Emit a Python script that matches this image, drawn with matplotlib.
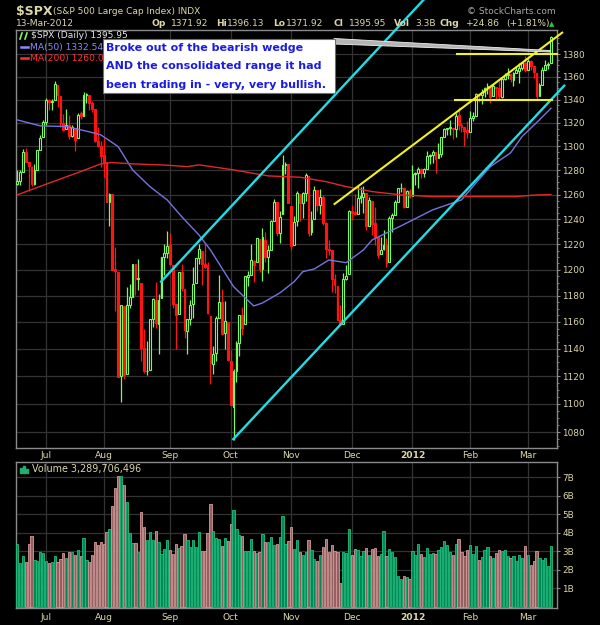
import matplotlib
matplotlib.use('Agg')
import matplotlib.pyplot as plt
import pandas as pd
from matplotlib.patches import Rectangle, Polygon
from matplotlib.lines import Line2D
from matplotlib.ticker import FixedLocator, NullFormatter

# trading days shown, Jun 17 2011 - Mar 13 2012
holidays = ['2011-07-04', '2011-09-05', '2011-11-24', '2011-12-26',
            '2012-01-02', '2012-01-16', '2012-02-20']
dates = pd.bdate_range('2011-06-17', '2012-03-13')
dates = dates[~dates.isin(pd.to_datetime(holidays))]

# daily OHLC, one row per month
opens = [
    1268.58, 1271.50, 1278.40, 1295.48, 1286.60, 1283.04, 1268.44, 1280.21, 1296.85, 1307.64,
    1320.64, 1339.59, 1337.56, 1339.62, 1352.39, 1343.31, 1319.61, 1314.45, 1317.74, 1308.87, 1315.94, 1307.07, 1328.66, 1325.65, 1343.80, 1344.32, 1337.39, 1331.91, 1304.84, 1300.12,
    1292.59, 1286.56, 1254.25, 1260.23, 1200.28, 1198.48, 1120.23, 1171.77, 1121.30, 1172.87, 1178.86, 1204.22, 1192.89, 1189.62, 1140.47, 1123.55, 1124.36, 1162.16, 1176.69, 1158.85, 1177.91, 1209.76, 1213.00,
    1219.12, 1203.90, 1173.97, 1165.85, 1197.98, 1185.37, 1153.50, 1162.59, 1173.32, 1189.44, 1209.21, 1214.99, 1204.50, 1203.63, 1164.55, 1128.82, 1136.91, 1163.32, 1175.39, 1151.74, 1159.93,
    1131.21, 1097.42, 1124.03, 1144.11, 1165.03, 1158.15, 1194.60, 1196.19, 1206.96, 1205.65, 1224.47, 1200.75, 1223.46, 1209.92, 1215.39, 1238.72, 1254.19, 1229.17, 1243.97, 1284.39, 1284.96,
    1251.00, 1219.62, 1238.25, 1260.82, 1253.21, 1261.12, 1275.18, 1229.59, 1240.12, 1263.85, 1251.70, 1257.81, 1236.56, 1216.19, 1215.62, 1192.98, 1187.48, 1161.41, 1158.67, 1192.56, 1196.72,
    1246.91, 1246.03, 1244.33, 1257.19, 1258.14, 1260.87, 1234.48, 1255.05, 1236.83, 1225.73, 1212.12, 1216.09, 1219.74, 1205.72, 1241.25, 1243.72, 1254.00, 1265.02, 1265.38, 1249.75, 1262.82,
    1258.86, 1277.03, 1277.30, 1280.93, 1277.83, 1280.77, 1292.02, 1292.48, 1294.82, 1290.22, 1293.65, 1308.07, 1314.49, 1315.29, 1315.96, 1314.40, 1326.28, 1318.25, 1316.16, 1313.53,
    1312.45, 1324.24, 1326.21, 1344.32, 1344.33, 1347.04, 1349.97, 1351.21, 1343.06, 1351.30, 1350.52, 1342.61, 1358.06, 1361.22, 1362.11, 1357.53, 1363.46, 1365.20, 1367.56, 1372.20,
    1365.90, 1374.09, 1369.59, 1363.63, 1343.39, 1352.65, 1365.97, 1370.78, 1371.92,
]
highs = [
    1279.82, 1280.42, 1297.62, 1298.61, 1286.79, 1283.93, 1284.91, 1296.80, 1309.21, 1321.97,
    1341.01, 1340.89, 1340.94, 1356.48, 1352.39, 1343.31, 1327.17, 1331.48, 1326.88, 1317.70, 1315.94, 1328.14, 1330.43, 1347.00, 1346.10, 1344.32, 1338.51, 1331.91, 1316.32, 1304.16,
    1307.38, 1286.56, 1261.20, 1260.23, 1218.11, 1198.48, 1172.88, 1171.77, 1186.29, 1189.04, 1204.49, 1204.22, 1208.47, 1189.62, 1154.54, 1145.49, 1162.35, 1178.56, 1190.68, 1181.23, 1210.28, 1220.10, 1230.71,
    1229.29, 1203.90, 1173.97, 1198.62, 1204.40, 1185.37, 1162.52, 1176.41, 1202.38, 1209.11, 1220.06, 1214.99, 1220.39, 1206.30, 1164.55, 1141.72, 1164.19, 1195.86, 1184.71, 1175.87, 1159.93,
    1138.99, 1125.12, 1146.07, 1165.55, 1171.40, 1194.91, 1199.24, 1220.25, 1207.46, 1224.61, 1224.47, 1233.10, 1229.64, 1219.36, 1239.03, 1256.55, 1254.19, 1246.28, 1292.66, 1287.08, 1284.96,
    1251.00, 1242.48, 1263.21, 1260.82, 1261.70, 1277.55, 1275.18, 1246.22, 1266.98, 1263.85, 1264.25, 1259.61, 1237.73, 1223.51, 1215.62, 1196.81, 1187.48, 1172.66, 1197.35, 1203.67, 1247.11,
    1251.09, 1260.08, 1266.73, 1266.03, 1267.06, 1260.87, 1258.25, 1255.05, 1249.86, 1225.73, 1225.60, 1231.04, 1224.57, 1242.82, 1245.09, 1255.22, 1265.42, 1269.37, 1265.85, 1263.54, 1264.12,
    1284.62, 1278.73, 1283.05, 1281.84, 1281.99, 1296.46, 1293.80, 1296.82, 1294.82, 1303.00, 1308.11, 1315.49, 1315.38, 1322.28, 1315.96, 1328.30, 1333.47, 1320.06, 1316.16, 1321.41,
    1330.52, 1329.19, 1345.34, 1344.36, 1349.24, 1351.00, 1354.32, 1351.21, 1353.35, 1351.30, 1355.87, 1359.02, 1363.40, 1367.76, 1362.70, 1364.24, 1368.92, 1371.94, 1373.09, 1378.04,
    1376.17, 1374.53, 1369.59, 1363.63, 1354.85, 1368.72, 1374.76, 1373.04, 1396.13,
]
lows = [
    1267.40, 1267.56, 1278.40, 1286.79, 1262.87, 1267.24, 1267.53, 1280.21, 1296.85, 1307.64,
    1318.18, 1330.92, 1330.92, 1339.62, 1333.71, 1316.42, 1313.33, 1314.45, 1306.51, 1307.52, 1295.92, 1307.07, 1323.65, 1325.65, 1336.95, 1331.09, 1329.10, 1303.49, 1299.16, 1282.86,
    1274.73, 1254.03, 1234.56, 1199.54, 1168.09, 1119.28, 1101.54, 1118.01, 1121.30, 1170.74, 1178.86, 1180.53, 1184.36, 1131.03, 1122.05, 1121.09, 1124.36, 1156.30, 1155.47, 1135.91, 1177.91, 1195.77, 1209.35,
    1203.85, 1170.56, 1140.13, 1165.85, 1183.34, 1148.37, 1136.07, 1157.44, 1162.73, 1189.44, 1204.46, 1188.36, 1201.19, 1166.21, 1114.22, 1121.36, 1131.07, 1163.32, 1150.40, 1139.93, 1131.34,
    1098.92, 1074.77, 1115.68, 1134.95, 1150.26, 1158.15, 1187.30, 1196.19, 1190.58, 1205.65, 1198.55, 1191.48, 1206.31, 1197.34, 1215.39, 1238.72, 1226.79, 1221.06, 1243.97, 1277.01, 1253.16,
    1215.42, 1219.62, 1234.81, 1238.92, 1240.75, 1254.99, 1226.64, 1227.70, 1240.12, 1246.68, 1244.34, 1235.67, 1209.43, 1211.36, 1183.16, 1181.65, 1161.79, 1158.66, 1158.67, 1191.80, 1196.72,
    1239.73, 1243.35, 1244.33, 1253.03, 1244.80, 1231.47, 1234.48, 1227.25, 1219.43, 1209.47, 1212.12, 1215.20, 1202.37, 1205.72, 1229.51, 1243.72, 1254.00, 1262.30, 1248.64, 1249.75, 1257.46,
    1258.86, 1268.10, 1265.26, 1273.34, 1274.55, 1280.77, 1285.41, 1285.77, 1277.58, 1290.22, 1290.99, 1308.07, 1309.17, 1309.89, 1306.06, 1307.65, 1313.60, 1311.72, 1300.49, 1306.69,
    1312.45, 1321.57, 1326.21, 1337.52, 1335.92, 1341.95, 1344.63, 1337.35, 1343.06, 1340.83, 1340.80, 1341.22, 1357.24, 1358.11, 1355.53, 1352.28, 1363.46, 1354.92, 1365.97, 1363.81,
    1365.90, 1366.42, 1359.13, 1340.03, 1343.39, 1352.65, 1365.97, 1366.69, 1371.92,
]
closes = [
    1271.50, 1278.36, 1295.52, 1287.14, 1283.50, 1268.45, 1280.10, 1296.67, 1307.41, 1320.64,
    1339.67, 1337.88, 1339.22, 1353.22, 1343.80, 1319.49, 1313.64, 1317.72, 1308.87, 1316.14, 1305.44, 1326.73, 1325.84, 1343.80, 1345.02, 1337.43, 1331.94, 1304.89, 1300.67, 1292.28,
    1286.94, 1254.05, 1260.34, 1200.07, 1199.38, 1119.46, 1172.53, 1120.76, 1172.64, 1178.81, 1204.49, 1192.76, 1193.89, 1140.65, 1123.53, 1123.82, 1162.35, 1177.60, 1159.27, 1176.80, 1210.08, 1212.92, 1218.89,
    1204.42, 1173.97, 1165.24, 1198.62, 1185.90, 1154.23, 1162.27, 1172.87, 1188.68, 1209.11, 1216.01, 1204.09, 1202.09, 1166.76, 1129.56, 1136.43, 1162.95, 1175.38, 1151.06, 1160.40, 1131.42,
    1099.23, 1123.95, 1144.03, 1164.97, 1155.46, 1194.89, 1195.54, 1207.25, 1203.66, 1224.58, 1200.86, 1225.38, 1209.88, 1215.39, 1238.25, 1254.19, 1229.05, 1242.00, 1284.59, 1285.09, 1253.30,
    1218.28, 1237.90, 1261.15, 1253.23, 1261.12, 1275.92, 1229.10, 1239.70, 1263.85, 1251.78, 1257.81, 1236.91, 1216.13, 1215.65, 1192.98, 1188.04, 1161.79, 1158.67, 1192.55, 1195.19, 1246.96,
    1244.58, 1244.28, 1257.08, 1258.47, 1261.01, 1234.35, 1255.19, 1236.47, 1225.73, 1211.82, 1215.75, 1219.66, 1205.35, 1241.30, 1243.72, 1254.00, 1265.33, 1265.43, 1249.64, 1263.02, 1257.60,
    1277.06, 1277.30, 1281.06, 1277.81, 1280.70, 1292.08, 1292.48, 1295.50, 1289.09, 1293.67, 1308.04, 1314.50, 1315.38, 1316.00, 1314.65, 1326.06, 1318.43, 1316.33, 1313.01, 1312.41,
    1324.09, 1325.54, 1344.90, 1344.33, 1347.05, 1349.96, 1351.95, 1342.64, 1351.77, 1350.50, 1343.23, 1358.04, 1361.23, 1362.21, 1357.66, 1363.46, 1365.74, 1367.59, 1372.18, 1365.68,
    1374.09, 1369.63, 1364.33, 1343.36, 1352.63, 1365.91, 1370.87, 1371.09, 1395.95,
]
# volume in billions
volume = [
    3.38, 2.37, 2.73, 2.40, 3.38, 3.81, 2.51, 2.48, 2.94, 2.89,
    2.46, 2.35, 2.40, 2.76, 2.40, 2.57, 2.89, 2.62, 2.94, 2.94,
    2.80, 3.05, 2.74, 3.70, 2.51, 2.40, 2.80, 3.49, 3.34, 3.49,
    3.38, 4.03, 4.21, 5.43, 6.40, 7.09, 7.09, 6.58, 5.68, 3.97,
    3.43, 3.43, 2.98, 5.10, 4.31, 3.61, 4.03, 3.63, 4.12, 3.49,
    2.83, 3.10, 3.59, 3.05, 2.83, 3.38, 3.16, 3.27, 3.95, 3.59,
    3.23, 3.63, 3.23, 4.03, 3.00, 3.00, 4.00, 5.57, 4.08, 3.70,
    3.66, 3.28, 3.70, 3.56, 4.46, 5.21, 4.21, 3.88, 3.83, 3.02,
    3.02, 3.64, 3.02, 2.91, 2.94, 3.92, 3.49, 3.49, 3.77, 3.34,
    3.38, 3.77, 4.89, 3.38, 3.56, 4.31, 3.13, 3.59,
    2.98, 2.80, 2.94, 3.59, 3.05, 2.57, 2.48, 2.80, 3.23, 3.64,
    2.94, 3.34, 3.00, 2.94, 1.28, 2.94, 2.91, 4.21, 2.80, 3.10,
    3.05, 2.76, 3.00, 3.16, 2.80, 3.10, 3.16, 2.74, 2.83, 4.08,
    2.74, 3.10, 2.94, 2.69, 1.64, 1.50, 1.64, 1.61, 1.53, 3.00,
    2.80, 3.38, 2.83, 2.69, 3.16, 2.87, 2.89, 2.83, 3.05, 3.21,
    3.54, 3.34, 2.94, 2.80, 3.38, 3.64, 2.98, 2.74, 3.05, 3.32,
    2.83, 3.27, 2.51, 2.67, 3.05, 3.21, 2.72, 2.62, 2.91, 3.05,
    3.00, 3.05, 2.72, 2.62, 2.72, 2.48, 2.80, 2.62, 3.27, 2.80,
    2.26, 2.48, 3.00, 2.62, 2.51, 2.62, 2.19, 3.28,
]

# moving averages (trading-day index, value)
ma50_idx = [0, 8, 17, 25, 29, 35, 40, 46, 52, 57, 63, 67, 75, 82, 85, 91, 96, 99, 103,
            108, 114, 120, 123, 133, 144, 154, 159, 164, 171, 175, 181, 185]
ma50_val = [1322.5, 1317.4, 1316.8, 1312.3, 1309.7, 1299.8, 1280.3, 1266.5, 1255.6, 1242.1,
            1227.4, 1215.5, 1186.9, 1172.1, 1174.4, 1182.0, 1190.7, 1198.5, 1200.6, 1207.6,
            1205.5, 1215.5, 1223.4, 1234.6, 1247.5, 1255.6, 1269.5, 1283.0, 1294.5, 1308.3,
            1322.5, 1332.5]
ma200_idx = [0, 11, 22, 29, 33, 40, 52, 59, 63, 75, 87, 98, 107, 114, 123, 133, 144, 161,
             173, 179, 185]
ma200_val = [1259.7, 1269.3, 1278.9, 1285.3, 1286.4, 1285.3, 1284.2, 1283.0, 1284.5, 1280.3,
             1275.3, 1274.2, 1270.6, 1266.5, 1262.4, 1259.7, 1258.3, 1258.3, 1258.3, 1259.5,
             1260.0]

# hand-drawn trend lines: (index, price) end points
cyan_lines = [[(74.9, 1075.1), (189.6, 1352.2)],
              [(49.9, 1190.8), (140.8, 1429.5)]]
yellow_lines = [[(110.0, 1252.3), (188.9, 1399.5)],
                [(152.6, 1380.0), (187.0, 1380.0)],
                [(151.8, 1340.0), (185.5, 1340.0)]]

note = ['Broke out of the bearish wedge',
        'AND the consolidated range it had',
        'been trading in - very, very bullish.']

n = len(dates)
assert len(opens) == len(highs) == len(lows) == len(closes) == len(volume) == n

BG = 'black'
TXT = '#dcd6aa'
GRID = '#333333'
SPINE = '#8a8a8a'
UP = '#7cf864'
DOWN = '#ff1414'

W, H = 600, 625
def fx(px):
    return px / W
def fy(py):
    return 1 - py / H

fig = plt.figure(figsize=(6, 6.25), dpi=100, facecolor=BG)
ax = fig.add_axes([fx(16), fy(447.5), 541 / W, 417.5 / H], facecolor=BG)
vax = fig.add_axes([fx(16), fy(608.3), 541 / W, 146 / H], facecolor=BG)

idx = list(range(n))
prev = [opens[0]] + closes[:-1]

# candles
for i in idx:
    o, h, l, c = opens[i], highs[i], lows[i], closes[i]
    col = UP if c >= prev[i] else DOWN
    ax.vlines(i, l, h, color=col, lw=0.9, zorder=2)
    face = col if c < o else BG
    ax.bar(i, max(abs(c - o), 0.3), bottom=min(o, c), width=0.62,
           facecolor=face, edgecolor=col, lw=0.8, zorder=3)

ax.plot(ma50_idx, ma50_val, color='#7474e0', lw=1.0, zorder=4)
ax.plot(ma200_idx, ma200_val, color='#e02828', lw=1.0, zorder=4)

for (a, b) in cyan_lines:
    ax.plot([a[0], b[0]], [a[1], b[1]], color='#22dde6', lw=1.7,
            clip_on=False, zorder=5)
for (a, b) in yellow_lines:
    ax.plot([a[0], b[0]], [a[1], b[1]], color='#f2f21e', lw=1.5,
            clip_on=False, zorder=5)

# month ticks
month_idx = [i for i in range(1, n) if dates[i].month != dates[i - 1].month]
month_lab = [str(dates[i].year) if dates[i].month == 1 else dates[i].strftime('%b')
             for i in month_idx]

ax.set_yscale('log')
ax.set_ylim(1069.3, 1401.9)
ax.set_xlim(-0.4, 187.1)
ax.yaxis.set_major_locator(FixedLocator(list(range(1080, 1381, 20))))
ax.yaxis.set_minor_locator(FixedLocator(list(range(1070, 1400, 5))))
ax.yaxis.set_major_formatter(plt.FuncFormatter(lambda v, p: '%d' % round(v)))
ax.yaxis.set_minor_formatter(NullFormatter())
ax.yaxis.tick_right()

vax.set_xlim(-0.4, 187.1)
vax.set_ylim(-0.08, 7.81)
vax.set_yticks(range(1, 8))
vax.set_yticklabels(['%dB' % v for v in range(1, 8)])
vax.yaxis.tick_right()

up_fill, up_edge = '#008a58', '#22c07e'
dn_fill, dn_edge = '#956060', '#d49a9a'
vcols = [up_fill if closes[i] >= prev[i] else dn_fill for i in idx]
vedges = [up_edge if closes[i] >= prev[i] else dn_edge for i in idx]
vax.bar(idx, volume, width=0.78, color=vcols, edgecolor=vedges, lw=0.6, zorder=3)

for a in (ax, vax):
    a.set_xticks(month_idx)
    a.set_xticklabels(month_lab)
    a.grid(True, which='major', color=GRID, lw=0.9, zorder=0)
    a.set_axisbelow(True)
    for s in a.spines.values():
        s.set_color(SPINE)
        s.set_linewidth(1.0)
    a.tick_params(axis='y', which='major', colors=SPINE, labelcolor=TXT,
                  labelsize=6.4, length=2.5, width=0.8, pad=1.5)
    a.tick_params(axis='y', which='minor', colors=SPINE, length=1.5, width=0.6)
    a.tick_params(axis='x', length=0, labelcolor=TXT, labelsize=6.6, pad=2.5)
    for t in a.get_xticklabels():
        if t.get_text() == '2012':
            t.set_fontweight('bold')
vax.tick_params(axis='x', pad=3.5)

# header
fig.text(fx(16), fy(11.5), '$SPX', color=TXT, fontsize=9, fontweight='bold',
         va='center', ha='left')
fig.text(fx(53), fy(12), '(S&P 500 Large Cap Index) INDX', color=TXT, fontsize=6.5,
         va='center', ha='left')
fig.text(fx(556), fy(12), '\u00a9 StockCharts.com', color='#a8a8a8', fontsize=6.5,
         va='center', ha='right')
fig.text(fx(16), fy(23.5), '13-Mar-2012', color=TXT, fontsize=6.6, va='center', ha='left')
hdr = [(151.7, 'Op', True), (170.7, '1371.92', False), (216, 'Hi', True),
       (226.7, '1396.13', False), (272.7, 'Lo', True), (286, '1371.92', False),
       (334, 'Cl', True), (349.3, '1395.95', False), (394.3, 'Vol', True),
       (415, '3.3B', False), (440, 'Chg', True), (466, '+24.86', False),
       (506.7, '(+1.81%)', False)]
for x, s, b in hdr:
    fig.text(fx(x), fy(23.5), s, color=TXT, fontsize=6.6,
             fontweight='bold' if b else 'normal', va='center', ha='left')
fig.text(fx(552), fy(24.3), '\u25b2', color='#2fc83a', fontsize=5, va='center', ha='center')

# legends inside panels
fig.text(fx(31), fy(35.7), '$SPX (Daily) 1395.95', color='#e4e4e4', fontsize=6.6,
         va='center', ha='left')
fig.add_artist(Line2D([fx(20), fx(22)], [fy(39), fy(33)], color=UP, lw=1.2,
                      transform=fig.transFigure))
fig.add_artist(Line2D([fx(25), fx(27)], [fy(39), fy(33)], color=UP, lw=1.2,
                      transform=fig.transFigure))
fig.text(fx(30), fy(47.3), 'MA(50) 1332.54', color='#8a8aff', fontsize=6.6,
         va='center', ha='left')
fig.add_artist(Line2D([fx(20.5), fx(28)], [fy(47.3), fy(47.3)], color='#8a8aff', lw=1.8,
                      transform=fig.transFigure))
fig.text(fx(30), fy(58.3), 'MA(200) 1260.00', color='#ff3030', fontsize=6.6,
         va='center', ha='left')
fig.add_artist(Line2D([fx(20.5), fx(28)], [fy(58.3), fy(58.3)], color='#ff3030', lw=1.8,
                      transform=fig.transFigure))

fig.text(fx(31.5), fy(469.3), 'Volume 3,289,706,496', color=TXT, fontsize=6.9,
         va='center', ha='left')
for bx, bh in [(19.5, 5), (22.5, 7), (25.5, 4)]:
    fig.add_artist(Rectangle((fx(bx), fy(473)), 2 / W, bh / H, color='#1fb070',
                             transform=fig.transFigure))

# callout box
fig.add_artist(Polygon([(fx(334), fy(38.5)), (fx(334), fy(44)), (fx(550), fy(52)),
                        (fx(550), fy(50.5))], closed=True, facecolor='#b4b4b4',
                       edgecolor='#f0f0f0', lw=0.6, transform=fig.transFigure, zorder=6))
fig.add_artist(Rectangle((fx(103), fy(93)), 232 / W, 54 / H, facecolor='white',
                         edgecolor='#707070', lw=0.8, transform=fig.transFigure, zorder=7))
for k, s in enumerate(note):
    fig.text(fx(106.5), fy(48.3 + k * 18.1), s, color='#1c1ce0', fontsize=8.0,
             fontweight='bold', family='DejaVu Sans', va='center', ha='left', zorder=8)

fig.savefig('out.png', dpi=100, facecolor=BG)
